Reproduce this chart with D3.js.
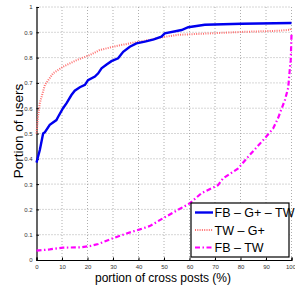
<!DOCTYPE html>
<html>
<head>
<meta charset="utf-8">
<script src="https://cdn.jsdelivr.net/npm/d3@7"></script>
<style>
  body { margin: 0; background: #fff; }
  text { font-family: "Liberation Sans", Arial, sans-serif; }
</style>
</head>
<body>
<div id="chart"></div>
<script>
// values
var xTicks = [0, 10, 20, 30, 40, 50, 60, 70, 80, 90, 100];
var yTicks = [0, 0.1, 0.2, 0.3, 0.4, 0.5, 0.6, 0.7, 0.8, 0.9, 1];
var seriesNames = ["FB \u2013 G+ \u2013 TW", "TW \u2013 G+", "FB \u2013 TW"];

var fbGpTw = [[0, 0.385], [0.6, 0.408], [1.3, 0.435], [2.6, 0.5], [3.3, 0.505], [5.2, 0.534], [7.8, 0.553],
  [8.5, 0.566], [10.4, 0.6], [11.8, 0.62], [13.7, 0.652], [15, 0.669], [17, 0.683], [19, 0.692], [20.2, 0.711],
  [22.9, 0.725], [24.2, 0.738], [25.5, 0.758], [27.5, 0.773], [29.4, 0.786], [32, 0.797], [34, 0.823],
  [36.6, 0.843], [39.2, 0.856], [42.5, 0.863], [46, 0.872], [49, 0.883], [50.3, 0.896], [56.9, 0.909],
  [59.5, 0.92], [66, 0.93], [80.4, 0.934], [100, 0.937]];

var twGp = [[0, 0.5], [0.6, 0.566], [1.3, 0.62], [3.3, 0.692], [6.5, 0.738], [10.4, 0.764], [15.7, 0.79],
  [20.9, 0.81], [24.8, 0.83], [31.4, 0.846], [37.9, 0.859], [44.4, 0.87], [49, 0.88], [55.5, 0.89],
  [68.6, 0.896], [81.7, 0.902], [94.7, 0.906], [99.5, 0.91], [100, 0.918]];

var fbTw = [[0, 0.037], [5.2, 0.042], [10.4, 0.049], [17, 0.05], [20.9, 0.055], [24.2, 0.063], [30, 0.086],
  [35.3, 0.105], [40.5, 0.121], [44.4, 0.134], [50.3, 0.169], [60.1, 0.224], [64.7, 0.264], [71.2, 0.296],
  [73.2, 0.323], [79.1, 0.362], [83.6, 0.415], [88.9, 0.474], [92.8, 0.52], [94.7, 0.56], [97.4, 0.632],
  [98.7, 0.68], [99.3, 0.75], [99.7, 0.79], [100, 0.89]];

var W = 295, H = 286;
var margin = {top: 7, right: 3.5, bottom: 26, left: 36.5};

var svg = d3.select("#chart").append("svg")
  .attr("width", W)
  .attr("height", H);

var x = d3.scaleLinear().domain([0, 100]).range([margin.left, W - margin.right]);
var y = d3.scaleLinear().domain([0, 1]).range([H - margin.bottom, margin.top]);

// dotted grid
svg.append("g").selectAll("line.gx")
  .data(xTicks.slice(1))
  .enter().append("line")
  .attr("x1", d => x(d)).attr("x2", d => x(d))
  .attr("y1", y(0)).attr("y2", y(1))
  .attr("stroke", "#999")
  .attr("stroke-width", 0.8)
  .attr("stroke-dasharray", "1,2");

svg.append("g").selectAll("line.gy")
  .data(yTicks.slice(1))
  .enter().append("line")
  .attr("x1", x(0)).attr("x2", x(100))
  .attr("y1", d => y(d)).attr("y2", d => y(d))
  .attr("stroke", "#999")
  .attr("stroke-width", 0.8)
  .attr("stroke-dasharray", "1,2");

// axes
var xAxis = svg.append("g")
  .attr("transform", "translate(0," + y(0) + ")")
  .call(d3.axisBottom(x).tickValues(xTicks).tickSize(-2.5).tickPadding(5).tickFormat(d3.format("d")));
var yAxis = svg.append("g")
  .attr("transform", "translate(" + x(0) + ",0)")
  .call(d3.axisLeft(y).tickValues(yTicks).tickSize(-2.5).tickPadding(4).tickFormat(d => d === 0 || d === 1 ? d : d3.format(".1f")(d)));

[xAxis, yAxis].forEach(function(a) {
  a.select(".domain").attr("stroke", "#000").attr("stroke-width", 1.2);
  a.selectAll(".tick line").attr("stroke", "#000");
  a.selectAll(".tick text").attr("font-size", 6).attr("fill", "#333")
    .style("font-family", "'Liberation Sans', Arial, sans-serif");
});
// last x label sits right at the window edge
xAxis.selectAll(".tick text").filter(d => d === 100).attr("text-anchor", "end").attr("dx", 4);

// lines
var line = d3.line().x(d => x(d[0])).y(d => y(d[1]));

svg.append("path").datum(fbTw)
  .attr("d", line).attr("fill", "none")
  .attr("stroke", "#ff00ff").attr("stroke-width", 2.2)
  .attr("stroke-dasharray", "5,2.5,1.5,2.5");

svg.append("path").datum(twGp)
  .attr("d", line).attr("fill", "none")
  .attr("stroke", "#ff7070").attr("stroke-width", 2)
  .attr("stroke-dasharray", "1,1.3");

svg.append("path").datum(fbGpTw)
  .attr("d", line).attr("fill", "none")
  .attr("stroke", "#0000ee").attr("stroke-width", 2.4);

// axis labels
svg.append("text")
  .attr("x", (x(0) + x(100)) / 2 - 1)
  .attr("y", 282)
  .attr("text-anchor", "middle")
  .attr("font-size", 12)
  .text("portion of cross posts (%)");

svg.append("text")
  .attr("transform", "translate(23,131) rotate(-90)")
  .attr("text-anchor", "middle")
  .attr("font-size", 13.5)
  .text("Portion of users");

// legend
var legend = svg.append("g");
legend.append("rect")
  .attr("x", 191).attr("y", 203)
  .attr("width", 98).attr("height", 54)
  .attr("fill", "#fff")
  .attr("stroke", "#000")
  .attr("stroke-width", 1.2);

var legStyles = [
  {color: "#0000ee", dash: null, width: 2.4},
  {color: "#ff7070", dash: "1,1.3", width: 2},
  {color: "#ff00ff", dash: "5,2.5,1.5,2.5", width: 2.2}
];
seriesNames.forEach(function(name, i) {
  var ly = 212.5 + i * 17.5;
  legend.append("line")
    .attr("x1", 195).attr("x2", 213)
    .attr("y1", ly).attr("y2", ly)
    .attr("stroke", legStyles[i].color)
    .attr("stroke-width", legStyles[i].width)
    .attr("stroke-dasharray", legStyles[i].dash);
  legend.append("text")
    .attr("x", 214.5).attr("y", ly + 4.5)
    .attr("font-size", 12.5)
    .text(name);
});
</script>
</body>
</html>
